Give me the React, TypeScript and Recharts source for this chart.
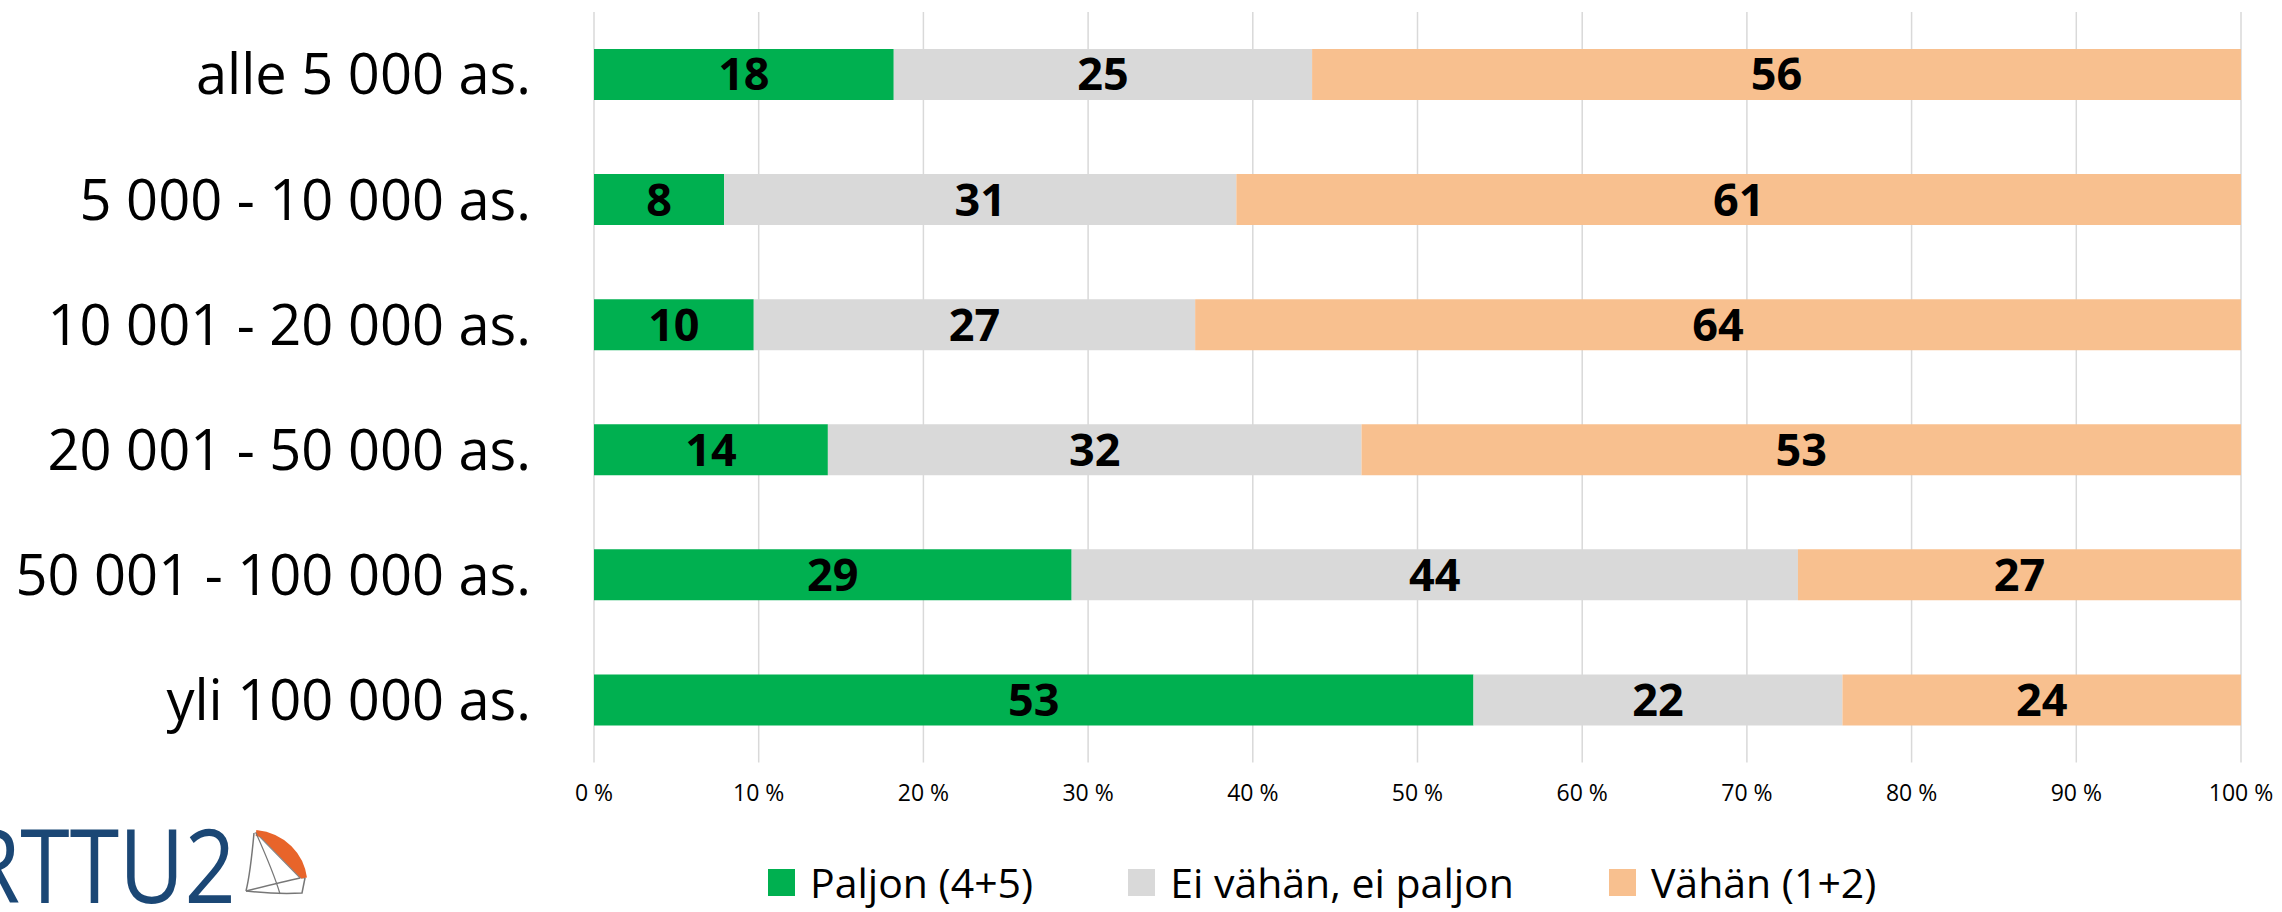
import { BarChart, Bar, XAxis, YAxis, CartesianGrid, LabelList } from "recharts"

const categories = [
  "alle 5 000 as.",
  "5 000 - 10 000 as.",
  "10 001 - 20 000 as.",
  "20 001 - 50 000 as.",
  "50 001 - 100 000 as.",
  "yli 100 000 as.",
]
const paljon = [18.2, 7.9, 9.7, 14.2, 29.0, 53.4]
const eiVahanEiPaljon = [25.4, 31.1, 26.8, 32.4, 44.1, 22.4]
const vahan = [56.4, 61.0, 63.5, 53.4, 26.9, 24.2]
const xTicks = [0, 10, 20, 30, 40, 50, 60, 70, 80, 90, 100]

const seriesNames = ["Paljon (4+5)", "Ei vähän, ei paljon", "Vähän (1+2)"]
const colors = { paljon: "#00b050", ei: "#d9d9d9", vahan: "#f8c08f" }

const data = categories.map((name, i) => ({
  name,
  paljon: paljon[i],
  ei: eiVahanEiPaljon[i],
  vahan: vahan[i],
}))

const font = "'Open Sans', 'Noto Sans', sans-serif"
const labelStyle = { fontFamily: font, fontSize: 45, fontWeight: 700, fill: "#000" }

function Logo() {
  return (
    <svg width={320} height={92} style={{ position: "absolute", left: 0, top: 820 }}>
      <text x={-40} y={83} fill="#1b4775" fontFamily={font} fontWeight={500} fontSize={102}
        transform="scale(0.88,1)">RTTU2</text>
      {/* sail */}
      <path d="M256 13 C282 18 302 38 305 58 L300 58 Z" fill="#e8642a" stroke="#888" strokeWidth={1.2} />
      <path d="M256 13 C284 16 301 36 304 58" fill="none" stroke="#e8642a" strokeWidth={6} />
      <path d="M254 13 C252 35 250 55 246 71" fill="none" stroke="#777" strokeWidth={1.5} />
      <path d="M246 71 C262 67 282 62 300 58" fill="none" stroke="#777" strokeWidth={1.5} />
      <path d="M246 71 C264 73 284 74 302 73 L305 58" fill="none" stroke="#777" strokeWidth={1.5} />
      <path d="M256 13 C268 40 276 60 280 74" fill="none" stroke="#777" strokeWidth={1.2} />
    </svg>
  )
}

function ChartLegend() {
  const keys = ["paljon", "ei", "vahan"] as const
  return (
    <div style={{ position: "absolute", left: 768, top: 861, height: 42, lineHeight: "42px", display: "flex", gap: 95, alignItems: "center", fontFamily: font, fontSize: 41, color: "#000", whiteSpace: "nowrap" }}>
      {keys.map((k, i) => (
        <div key={k} style={{ display: "flex", alignItems: "center" }}>
          <span style={{ display: "inline-block", width: 27, height: 27, background: colors[k], marginRight: 15 }} />
          <span>{seriesNames[i]}</span>
        </div>
      ))}
    </div>
  )
}

export default function App() {
  return (
    <div style={{ position: "absolute", left: 0, top: 0, width: 2282, height: 912, background: "#fff", overflow: "hidden" }}>
      <BarChart
        width={2282}
        height={912}
        data={data}
        layout="vertical"
        margin={{ top: 12, right: 41, left: 0, bottom: 89.5 }}
        barSize={51}
      >
        <CartesianGrid horizontal={false} vertical stroke="#d9d9d9" strokeWidth={1.5} />
        <XAxis
          type="number"
          domain={[0, 100]}
          ticks={xTicks}
          tickFormatter={(v: number) => `${v} %`}
          axisLine={false}
          tickLine={false}
          tickSize={0}
          tickMargin={22}
          height={60}
          interval={0}
          tick={{ fontFamily: font, fontSize: 23, fill: "#000" }}
        />
        <YAxis
          type="category"
          dataKey="name"
          width={594}
          axisLine={false}
          tickLine={false}
          tickSize={0}
          tickMargin={63}
          interval={0}
          tick={{ fontFamily: font, fontSize: 56, fill: "#000" }}
        />
        <Bar dataKey="paljon" stackId="a" fill={colors.paljon} isAnimationActive={false}>
          <LabelList dataKey="paljon" position="center" formatter={(v: number) => Math.round(v)} style={labelStyle} />
        </Bar>
        <Bar dataKey="ei" stackId="a" fill={colors.ei} isAnimationActive={false}>
          <LabelList dataKey="ei" position="center" formatter={(v: number) => Math.round(v)} style={labelStyle} />
        </Bar>
        <Bar dataKey="vahan" stackId="a" fill={colors.vahan} isAnimationActive={false}>
          <LabelList dataKey="vahan" position="center" formatter={(v: number) => Math.round(v)} style={labelStyle} />
        </Bar>
      </BarChart>
      <ChartLegend />
      <Logo />
    </div>
  )
}
